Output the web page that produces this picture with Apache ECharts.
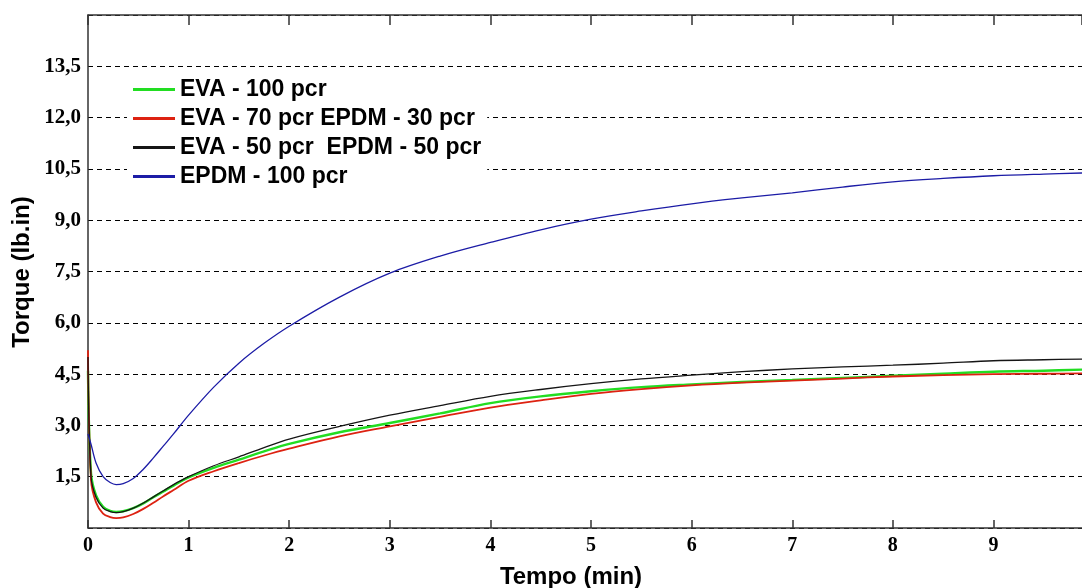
<!DOCTYPE html>
<html>
<head>
<meta charset="utf-8">
<title>Torque x Tempo</title>
<script src="https://cdn.jsdelivr.net/npm/echarts@6/dist/echarts.min.js"></script>
<style>
  html, body { margin: 0; padding: 0; background: #fff; }
  #chart { width: 1082px; height: 588px; }
</style>
</head>
<body>
<div id="chart"></div>
<script>
  // tempo (min)
  var tempo = [0, 0.03, 0.08, 0.15, 0.22, 0.28, 0.35, 0.45, 0.55, 0.65, 0.75, 0.85, 1.0, 1.25, 1.5, 1.75, 2.0,
    2.5, 3.0, 3.5, 4.0, 4.5, 5.0, 5.5, 6.0, 6.5, 7.0, 7.5, 8.0, 8.5, 9.0, 9.5, 9.88];

  // torque (lb.in)
  var eva100 = [4.6, 1.6, 0.95, 0.62, 0.5, 0.47, 0.49, 0.58, 0.72, 0.9, 1.07, 1.24, 1.48, 1.76, 2.0, 2.24, 2.46,
    2.8, 3.07, 3.35, 3.65, 3.85, 4.0, 4.12, 4.2, 4.27, 4.33, 4.39, 4.45, 4.51, 4.57, 4.6, 4.63];
  var eva70 = [5.2, 1.4, 0.75, 0.42, 0.32, 0.29, 0.31, 0.41, 0.56, 0.74, 0.93, 1.11, 1.38, 1.66, 1.9, 2.12, 2.32,
    2.68, 2.97, 3.25, 3.52, 3.73, 3.92, 4.06, 4.17, 4.25, 4.31, 4.37, 4.43, 4.47, 4.5, 4.51, 4.52];
  var eva50 = [5.0, 1.5, 0.9, 0.58, 0.48, 0.45, 0.48, 0.58, 0.73, 0.91, 1.09, 1.27, 1.5, 1.82, 2.08, 2.35, 2.6,
    2.97, 3.3, 3.58, 3.85, 4.05, 4.22, 4.36, 4.47, 4.57, 4.65, 4.71, 4.76, 4.82, 4.89, 4.92, 4.94];
  var epdm100 = [2.75, 2.45, 1.9, 1.5, 1.33, 1.27, 1.3, 1.45, 1.72, 2.05, 2.4, 2.75, 3.3, 4.12, 4.82, 5.4, 5.9,
    6.75, 7.45, 7.95, 8.35, 8.72, 9.03, 9.27, 9.48, 9.65, 9.8, 9.97, 10.12, 10.22, 10.3, 10.35, 10.38];

  var nomes = ['EVA - 100 pcr', 'EVA - 70 pcr EPDM - 30 pcr', 'EVA - 50 pcr  EPDM - 50 pcr', 'EPDM - 100 pcr'];
  var cores = ['#22dd22', '#dd2211', '#151515', '#1c1ca6'];
  var larguras = [2.4, 1.8, 1.3, 1.3];
  var valores = [eva100, eva70, eva50, epdm100];

  function pares(v) {
    return tempo.map(function (t, i) { return [t, v[i]]; });
  }

  var chart = echarts.init(document.getElementById('chart'));
  var serif = '"Liberation Serif", "DejaVu Serif", serif';
  var sans = '"Liberation Sans", Arial, sans-serif';

  var option = {
    animation: false,
    backgroundColor: '#fff',
    grid: { left: 88, top: 15, right: 0, bottom: 60 },
    legend: {
      orient: 'vertical',
      left: 127,
      top: 74,
      padding: [4, 6, 4, 6],
      backgroundColor: '#fff',
      itemWidth: 42,
      itemHeight: 3,
      itemGap: 6,
      icon: 'rect',
      textStyle: { fontFamily: sans, fontWeight: 'bold', fontSize: 23, lineHeight: 22, color: '#000' },
      data: nomes
    },
    graphic: [
      {
        type: 'text', x: 22, y: 272, rotation: Math.PI / 2,
        style: { text: 'Torque (lb.in)', font: 'bold 24px ' + sans, fill: '#000', align: 'center', verticalAlign: 'middle' }
      },
      {
        type: 'text', x: 571, y: 577,
        style: { text: 'Tempo (min)', font: 'bold 24px ' + sans, fill: '#000', align: 'center', verticalAlign: 'middle' }
      }
    ],
    xAxis: [
      {
        type: 'value', min: 0, max: 9.88, interval: 1,
        axisLine: { lineStyle: { color: '#333', width: 1.5 } },
        axisTick: { inside: true, length: 8, lineStyle: { color: '#333', width: 1.5 } },
        axisLabel: { fontFamily: serif, fontWeight: 'bold', fontSize: 20, color: '#000', margin: 8, showMaxLabel: false },
        splitLine: { show: false }
      },
      {
        type: 'value', position: 'top', min: 0, max: 9.88, interval: 1,
        axisLine: { lineStyle: { color: '#333', width: 1.5 } },
        axisTick: { inside: true, length: 10, lineStyle: { color: '#333', width: 1.5 } },
        axisLabel: { show: false },
        splitLine: { show: false }
      }
    ],
    yAxis: {
      type: 'value', min: 0, max: 15, interval: 1.5,
      axisLine: { show: true, lineStyle: { color: '#333', width: 1.5 } },
      axisTick: { show: false },
      axisLabel: {
        fontFamily: serif, fontWeight: 'bold', fontSize: 21, color: '#000', margin: 7,
        formatter: function (v) {
          if (v <= 0 || v >= 15) return '';
          return v.toFixed(1).replace('.', ',');
        }
      },
      splitLine: { lineStyle: { color: '#000', width: 1, type: [5, 4] } }
    },
    series: valores.map(function (v, i) {
      return {
        name: nomes[i],
        type: 'line',
        data: pares(v),
        showSymbol: false,
        smooth: 0.35,
        color: cores[i],
        lineStyle: { color: cores[i], width: larguras[i] }
      };
    })
  };

  chart.setOption(option);
  window.addEventListener('resize', function () {
    chart.resize();
  });
</script>
</body>
</html>
